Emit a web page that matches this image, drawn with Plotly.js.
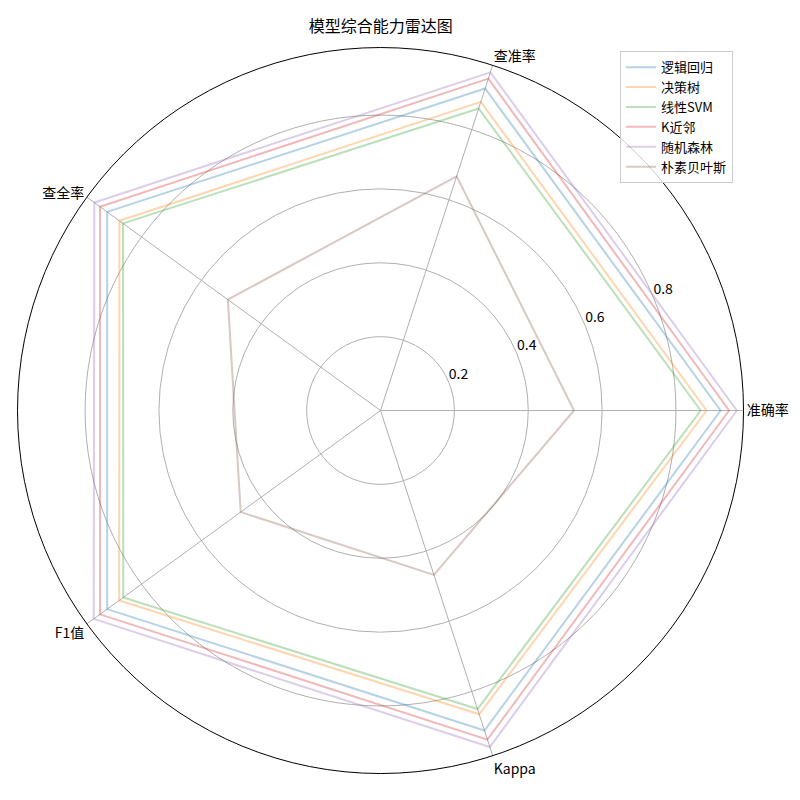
<!DOCTYPE html>
<html>
<head>
<meta charset="utf-8">
<script src="https://cdn.plot.ly/plotly-3.0.1.min.js"></script>
<style>html,body{margin:0;padding:0;background:#fff;}#chart{width:800px;height:800px;}</style>
</head>
<body>
<div id="chart"></div>
<script>
const categories = ['准确率', '查准率', '查全率', 'F1值', 'Kappa'];
const modelNames = ['逻辑回归', '决策树', '线性SVM', 'K近邻', '随机森林', '朴素贝叶斯'];
const logisticValues = [0.921, 0.917, 0.915, 0.915, 0.911];
const treeValues = [0.883, 0.879, 0.874, 0.875, 0.865];
const svmValues = [0.867, 0.860, 0.862, 0.861, 0.850];
const knnValues = [0.944, 0.945, 0.939, 0.939, 0.937];
const forestValues = [0.965, 0.963, 0.958, 0.960, 0.958];
const bayesValues = [0.524, 0.667, 0.511, 0.468, 0.468];
const radialTicks = [0.2, 0.4, 0.6, 0.8];
const tickText = ['0.2', '0.4', '0.6', '0.8'];

const seriesValues = [logisticValues, treeValues, svmValues, knnValues, forestValues, bayesValues];
const colors = ['#1f77b4', '#ff7f0e', '#2ca02c', '#d62728', '#9467bd', '#8c564b'];
const font = '"Noto Sans CJK SC", "Noto Sans", sans-serif';
const rMax = 0.983;
const labelAngle = 22.5;

const angles = categories.map((c, i) => i * 360 / categories.length);

const traces = seriesValues.map((vals, i) => ({
  type: 'scatterpolar',
  mode: 'lines',
  name: modelNames[i],
  r: vals.concat([vals[0]]),
  theta: angles.concat([angles[0]]),
  line: {color: colors[i], width: 2},
  opacity: 0.32,
  hoverinfo: 'skip'
}));

traces.push({
  type: 'scatterpolar',
  mode: 'text',
  r: radialTicks,
  theta: radialTicks.map(() => labelAngle),
  text: tickText,
  textposition: 'top right',
  textfont: {family: font, size: 14, color: '#000'},
  showlegend: false,
  hoverinfo: 'skip',
  cliponaxis: false
});

const layout = {
  width: 800, height: 800,
  margin: {l: 0, r: 0, t: 0, b: 0},
  paper_bgcolor: '#fff',
  font: {family: font, size: 14, color: '#000'},
  title: {text: '模型综合能力雷达图', font: {family: font, size: 16, color: '#000'}, x: 0.476, xanchor: 'center', y: 0.967, yanchor: 'middle'},
  polar: {
    domain: {x: [0.0219, 0.9294], y: [0.0331, 0.9406]},
    bgcolor: '#fff',
    angularaxis: {
      type: 'linear',
      thetaunit: 'degrees',
      rotation: 0,
      direction: 'counterclockwise',
      tickmode: 'array',
      tickvals: angles,
      ticktext: categories,
      showticklabels: true,
      tickfont: {family: font, size: 14, color: '#000'},
      showline: true, linecolor: '#000', linewidth: 1,
      showgrid: true, gridcolor: '#b0b0b0', gridwidth: 1,
      ticks: ''
    },
    radialaxis: {
      range: [0, rMax],
      angle: labelAngle,
      tickvals: radialTicks,
      ticktext: tickText,
      showticklabels: false,
      showline: false,
      showgrid: true, gridcolor: '#b0b0b0', gridwidth: 1,
      ticks: ''
    }
  },
  showlegend: true,
  legend: {
    x: 0.775, y: 0.936, xanchor: 'left', yanchor: 'top',
    bgcolor: 'rgba(255,255,255,0.8)', bordercolor: '#cccccc', borderwidth: 1,
    font: {family: font, size: 13, color: '#000'},
    tracegroupgap: 0
  }
};

Plotly.newPlot('chart', traces, layout, {displayModeBar: false, staticPlot: true});
</script>
</body>
</html>
